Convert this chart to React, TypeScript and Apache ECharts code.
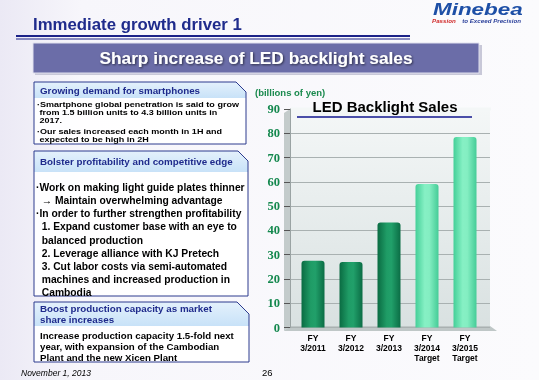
import React, { useEffect, useRef } from "react";
import * as echarts from "echarts";

const categories = ["FY\n3/2011", "FY\n3/2012", "FY\n3/2013", "FY\n3/2014\nTarget", "FY\n3/2015\nTarget"];
const sales = [27.5, 27.0, 43.2, 59.1, 78.5];
const isTarget = [false, false, false, true, true];
const yMin = 0;
const yMax = 90;
const yInterval = 10;

const box1ParaA = "·Smartphone global penetration is said to grow\n from 1.5 billion units to 4.3 billion units in\n 2017.";
const box1ParaB = "·Our sales increased each month in 1H and\n expected to be high in 2H";
const box2Lines = [
  "·Work on making light guide plates thinner",
  "  → Maintain overwhelming advantage",
  "·In order to further strengthen profitability",
  "  1. Expand customer base with an eye to",
  "  balanced production",
  "  2. Leverage alliance with KJ Pretech",
  "  3. Cut labor costs via semi-automated",
  "  machines and increased production in",
  "  Cambodia",
];
const box3Head = ["Boost production capacity as market", "share increases"];
const box3Lines = [
  "Increase production capacity 1.5-fold next",
  "year, with expansion of the Cambodian",
  "Plant and the new Xicen Plant",
];

const SANS = "'Liberation Sans', Arial, sans-serif";
const NAVY = "#1f2b8c";

function txt(text: string, x: number, y: number, size: number, opts: any = {}) {
  return {
    type: "text",
    z: 20,
    x: opts.ox || 0,
    y: opts.oy || 0,
    scaleX: opts.scaleX || 1,
    style: {
      text,
      x,
      y,
      fill: opts.fill || "#000",
      fontSize: size,
      fontWeight: opts.weight || "bold",
      fontStyle: opts.style || "normal",
      fontFamily: opts.family || SANS,
      lineHeight: opts.lineHeight,
      textAlign: opts.align || "left",
      align: opts.align || "left",
      textVerticalAlign: opts.valign || "middle",
      verticalAlign: opts.valign || "middle",
      textShadowColor: opts.shadow,
      textShadowBlur: opts.shadow ? 2 : 0,
      textShadowOffsetX: opts.shadow ? 1 : 0,
      textShadowOffsetY: opts.shadow ? 1 : 0,
    },
  };
}

function boxShape(x1: number, y1: number, x2: number, y2: number, headBottom: number, cut: number) {
  const els: any[] = [];
  els.push({
    type: "polygon",
    z: 5,
    shape: { points: [[x1, y1], [x2 - cut, y1], [x2, y1 + cut], [x2, y2], [x1, y2]] },
    style: { fill: "rgba(255,255,255,0.9)" },
  });
  els.push({
    type: "polygon",
    z: 6,
    shape: { points: [[x1, y1], [x2 - cut, y1], [x2, y1 + cut], [x2, headBottom], [x1, headBottom]] },
    style: {
      fill: new echarts.graphic.LinearGradient(0, 0, 0, 1, [
        { offset: 0, color: "#e4f1fc" },
        { offset: 1, color: "#c8e2f8" },
      ]),
    },
  });
  els.push({
    type: "polygon",
    z: 7,
    shape: { points: [[x1, y1], [x2 - cut, y1], [x2, y1 + cut], [x2, y2], [x1, y2]] },
    style: { fill: "none", stroke: "#2c3a8e", lineWidth: 1 },
  });
  return els;
}

export default function App() {
  const ref = useRef<HTMLDivElement>(null);
  useEffect(() => {
    if (!ref.current) return;
    const chart = echarts.init(ref.current, undefined, { renderer: "svg" });

    const darkGrad = new echarts.graphic.LinearGradient(0, 0, 1, 0, [
      { offset: 0, color: "#0a6b42" },
      { offset: 0.4, color: "#1f9c66" },
      { offset: 0.6, color: "#21a06a" },
      { offset: 1, color: "#0b6d45" },
    ]);
    const lightGrad = new echarts.graphic.LinearGradient(0, 0, 1, 0, [
      { offset: 0, color: "#44cf98" },
      { offset: 0.4, color: "#86f0c4" },
      { offset: 0.6, color: "#84eec2" },
      { offset: 1, color: "#45cc97" },
    ]);

    const graphics: any[] = [];
    // background
    graphics.push({
      type: "rect",
      z: -20,
      shape: { x: 0, y: 0, width: 539, height: 380 },
      style: {
        fill: new echarts.graphic.LinearGradient(0, 0, 1, 0, [
          { offset: 0, color: "#ebe9f5" },
          { offset: 0.15, color: "#f7f6fb" },
          { offset: 1, color: "#fbfbfd" },
        ]),
      },
    });
    // header
    graphics.push(txt("Immediate growth driver 1", 33, 24, 16.8, { fill: NAVY }));
    graphics.push({ type: "rect", z: 10, shape: { x: 16, y: 35, width: 394, height: 2 }, style: { fill: "#1c2288" } });
    graphics.push({ type: "rect", z: 10, shape: { x: 16, y: 38.5, width: 394, height: 1 }, style: { fill: "#1c2288" } });
    // logo
    graphics.push(txt("Minebea", 0, 0, 16.5, { fill: "#1d4fa6", style: "italic", weight: 900, ox: 433, oy: 9, scaleX: 1.36 }));
    graphics.push(txt("Passion", 432, 20.5, 6.2, { fill: "#d02828", style: "italic" }));
    graphics.push(txt("to Exceed Precision", 521, 20.5, 6.2, { fill: "#2a3f9a", style: "italic", align: "right" }));
    // banner
    graphics.push({ type: "rect", z: 8, shape: { x: 35, y: 45, width: 447, height: 30 }, style: { fill: "#c8c8d8" } });
    graphics.push({ type: "rect", z: 9, shape: { x: 33, y: 43, width: 446, height: 30 }, style: { fill: "#6b6da8", stroke: "#e0e0ee", lineWidth: 1 } });
    graphics.push(txt("Sharp increase of LED backlight sales", 256, 58, 17.3, { fill: "#ffffff", align: "center", shadow: "rgba(0,0,0,0.6)" }));

    // box 1
    graphics.push(...boxShape(34, 82, 246, 144, 98, 10));
    graphics.push(txt("Growing demand for smartphones", 40, 90.5, 9.8, { fill: NAVY }));
    graphics.push(txt(box1ParaA, 0, 100, 8, { lineHeight: 8, valign: "top", ox: 37, scaleX: 1.13 }));
    graphics.push(txt(box1ParaB, 0, 127, 8, { lineHeight: 8, valign: "top", ox: 37, scaleX: 1.13 }));

    // box 2
    graphics.push(...boxShape(34, 151, 248, 296, 172, 10));
    graphics.push(txt("Bolster profitability and competitive edge", 40, 161.5, 9.8, { fill: NAVY }));
    const b2y = [187.5, 200, 213.3, 226, 240, 253.3, 266, 279.3, 292.3];
    box2Lines.forEach((l, i) => graphics.push(txt(l, 36, b2y[i], 10.3)));

    // box 3
    graphics.push(...boxShape(34, 302, 249, 362, 326, 12));
    box3Head.forEach((l, i) => graphics.push(txt(l, 40, [308.5, 319.5][i], 9.8, { fill: NAVY })));
    box3Lines.forEach((l, i) => graphics.push(txt(l, 40, [335, 346.7, 357.5][i], 9.7)));

    // footer
    graphics.push(txt("November 1, 2013", 21, 373, 8.5, { weight: "normal", style: "italic" }));
    graphics.push(txt("26", 262, 372, 9.5, { weight: "normal" }));

    // chart decorations
    graphics.push(txt("(billions of yen)", 255, 92.5, 9.5, { fill: "#1a8a4e" }));
    graphics.push({
      type: "rect",
      z: -10,
      shape: { x: 290, y: 109, width: 200, height: 217 },
      style: {
        fill: new echarts.graphic.LinearGradient(0, 0, 0, 1, [
          { offset: 0, color: "#f4f7f7" },
          { offset: 1, color: "#d9e1e1" },
        ]),
      },
    });
    // cover the top (90) grid line: the wall's top edge
    graphics.push({ type: "rect", z: 1, shape: { x: 291, y: 107.5, width: 200, height: 3 }, style: { fill: "#f4f7f7" } });
    graphics.push({
      type: "polygon",
      z: -9,
      shape: { points: [[284, 113], [290, 109], [290, 326], [284, 331]] },
      style: { fill: "#c3cbcb" },
    });
    graphics.push({
      type: "polygon",
      z: -9,
      shape: { points: [[290, 326], [490, 326], [497, 331], [284, 331]] },
      style: { fill: "#bfc7c7" },
    });
    graphics.push(txt("LED Backlight Sales", 385, 106.5, 15, { align: "center" }));
    graphics.push({ type: "rect", z: 20, shape: { x: 297, y: 116, width: 175, height: 2 }, style: { fill: "#4a4ea8" } });

    const option: any = {
      animation: false,
      grid: [
        { left: 294, right: 55, top: 109, bottom: 52.5 },
        { left: 290, right: 49, top: 109, bottom: 52.5 },
      ],
      xAxis: [
        {
          type: "category",
          gridIndex: 0,
          data: categories,
          axisLine: { show: false },
          axisTick: { show: false },
          axisLabel: {
            color: "#000",
            fontSize: 8.5,
            fontWeight: "bold",
            fontFamily: SANS,
            lineHeight: 10,
            margin: 5,
            interval: 0,
          },
        },
        { type: "value", gridIndex: 1, show: false, min: 0, max: 1 },
      ],
      yAxis: [
        { type: "value", gridIndex: 0, min: yMin, max: yMax, interval: yInterval, show: false },
        {
          type: "value",
          gridIndex: 1,
          min: yMin,
          max: yMax,
          interval: yInterval,
          axisLine: { show: true, lineStyle: { color: "#9aa3a3" } },
          axisTick: { show: true, length: 6, lineStyle: { color: "#555" } },
          axisLabel: {
            color: "#14884e",
            fontSize: 12.5,
            fontWeight: "bold",
            fontFamily: "'Liberation Serif', 'Times New Roman', serif",
            margin: 10,
          },
          splitLine: { show: true, lineStyle: { color: "#a9b1b1", width: 1 } },
        },
      ],
      series: [
        {
          type: "bar",
          xAxisIndex: 0,
          yAxisIndex: 0,
          barWidth: 23,
          z: 3,
          data: sales.map((v, i) => ({
            value: v,
            itemStyle: { color: isTarget[i] ? lightGrad : darkGrad, borderRadius: [3, 3, 0, 0] },
          })),
        },
      ],
      graphic: { elements: graphics },
    };
    chart.setOption(option);
    return () => chart.dispose();
  }, []);
  return <div ref={ref} style={{ position: "fixed", left: 0, top: 0, width: 539, height: 380 }} />;
}
